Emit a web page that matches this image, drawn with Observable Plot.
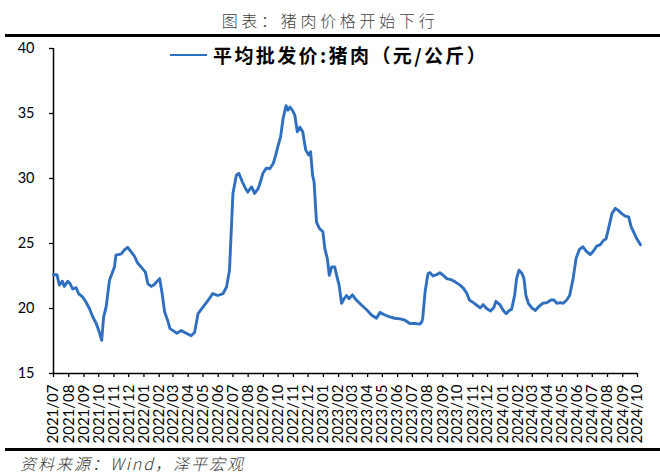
<!DOCTYPE html>
<html>
<head>
<meta charset="utf-8">
<script src="https://cdn.jsdelivr.net/npm/d3@7"></script>
<script src="https://cdn.jsdelivr.net/npm/@observablehq/plot@0.6"></script>
<style>
  html, body { margin: 0; padding: 0; background: #fff; }
  #wrap { position: relative; width: 660px; height: 476px; overflow: hidden; background: #fff; }
  #title { position: absolute; left: 0; top: 9px; width: 660px; text-align: center; font-family: "Noto Sans CJK SC", sans-serif; font-weight: 300; font-size: 16px; letter-spacing: 3.7px; color: #404040; line-height: 22px; }
  .rule { position: absolute; left: 5px; right: 0; background: #000; }
  #chart { position: absolute; left: 0; top: 36px; }
  #legend { position: absolute; left: 170px; top: 42px; display: flex; align-items: center; font-family: "Noto Sans CJK SC", sans-serif; font-weight: 700; font-size: 19px; letter-spacing: 2.4px; color: #000; line-height: 26px; }
  #legend .sw { width: 37px; height: 2.8px; background: #2e6fbf; margin-right: 6px; }
  #caption { position: absolute; left: 20px; top: 452px; font-family: "Noto Sans CJK SC", sans-serif; font-style: italic; font-weight: 300; font-size: 16px; letter-spacing: 2px; color: #333; line-height: 22px; }
  #chart svg g[aria-label="x-axis tick label"] text { font-size: 15px; }
</style>
</head>
<body>
<div id="wrap">
  <div id="title"></div>
  <div class="rule" style="top:34px;height:2.5px;"></div>
  <div id="chart"></div>
  <div id="legend"><div class="sw"></div><span id="legendText"></span></div>
  <div class="rule" style="top:448px;height:3px;"></div>
  <div id="caption"></div>
</div>
<script>
const titleText = "图表：猪肉价格开始下行";
const seriesName = "平均批发价:猪肉（元/公斤）";
const captionText = "资料来源：Wind，泽平宏观";

const yTicks = [15, 20, 25, 30, 35, 40];
const monthLabels = [
  "2021/07","2021/08","2021/09","2021/10","2021/11","2021/12",
  "2022/01","2022/02","2022/03","2022/04","2022/05","2022/06","2022/07","2022/08","2022/09","2022/10","2022/11","2022/12",
  "2023/01","2023/02","2023/03","2023/04","2023/05","2023/06","2023/07","2023/08","2023/09","2023/10","2023/11","2023/12",
  "2024/01","2024/02","2024/03","2024/04","2024/05","2024/06","2024/07","2024/08","2024/09","2024/10"
];

const dates = [
  "2021-07-01","2021-07-03","2021-07-08","2021-07-13","2021-07-19","2021-07-23","2021-07-30","2021-08-04","2021-08-09","2021-08-16",
  "2021-08-21","2021-08-29","2021-09-05","2021-09-12","2021-09-19","2021-09-26","2021-10-02","2021-10-07","2021-10-11","2021-10-16",
  "2021-10-23","2021-10-28","2021-11-02","2021-11-05","2021-11-16","2021-11-22","2021-11-29","2021-12-06","2021-12-13","2021-12-19",
  "2021-12-26","2022-01-04","2022-01-09","2022-01-16","2022-01-22","2022-01-27","2022-02-02","2022-02-07","2022-02-12","2022-02-18",
  "2022-02-23","2022-03-01","2022-03-09","2022-03-18","2022-03-28","2022-04-07","2022-04-14","2022-04-21","2022-05-01","2022-05-11",
  "2022-05-21","2022-05-31","2022-06-11","2022-06-18","2022-06-24","2022-07-01","2022-07-08","2022-07-13","2022-07-20","2022-07-25",
  "2022-07-31","2022-08-08","2022-08-14","2022-08-21","2022-08-24","2022-08-31","2022-09-07","2022-09-14","2022-09-21","2022-09-26",
  "2022-10-01","2022-10-06","2022-10-11","2022-10-17","2022-10-21","2022-10-25","2022-10-30","2022-11-04","2022-11-09","2022-11-14",
  "2022-11-20","2022-11-26","2022-12-02","2022-12-06","2022-12-10","2022-12-13","2022-12-18","2022-12-24","2022-12-31","2023-01-04",
  "2023-01-09","2023-01-13","2023-01-18","2023-01-24","2023-01-28","2023-02-02","2023-02-07","2023-02-12","2023-02-17","2023-02-22",
  "2023-03-01","2023-03-09","2023-03-20","2023-03-30","2023-04-09","2023-04-19","2023-04-26","2023-05-06","2023-05-16","2023-05-26",
  "2023-06-06","2023-06-16","2023-06-26","2023-07-06","2023-07-16","2023-07-20","2023-07-22","2023-07-25","2023-07-27","2023-07-30",
  "2023-08-02","2023-08-06","2023-08-12","2023-08-19","2023-08-26","2023-09-02","2023-09-09","2023-09-19","2023-09-26","2023-10-06",
  "2023-10-13","2023-10-20","2023-10-25","2023-11-02","2023-11-09","2023-11-16","2023-11-22","2023-11-29","2023-12-07","2023-12-14",
  "2023-12-18","2023-12-26","2024-01-02","2024-01-08","2024-01-14","2024-01-19","2024-01-25","2024-01-29","2024-02-03","2024-02-09",
  "2024-02-13","2024-02-17","2024-02-22","2024-02-29","2024-03-07","2024-03-13","2024-03-22","2024-03-31","2024-04-08","2024-04-14",
  "2024-04-20","2024-04-27","2024-05-03","2024-05-10","2024-05-16","2024-05-23","2024-05-29","2024-06-05","2024-06-12","2024-06-19",
  "2024-06-27","2024-07-03","2024-07-10","2024-07-17","2024-07-24","2024-07-29","2024-08-03","2024-08-10","2024-08-17","2024-08-23",
  "2024-08-30","2024-09-06","2024-09-13","2024-09-18","2024-09-23","2024-09-29","2024-10-03","2024-10-07"
];
const prices = [
  22.6,22.6,22.6,21.8,22.1,21.7,22.1,21.9,21.5,21.6,
  21.15,20.9,20.5,20.0,19.35,18.85,18.2,17.55,19.35,20.1,
  22.2,22.7,23.2,24.1,24.2,24.5,24.7,24.35,24.0,23.5,
  23.2,22.8,21.9,21.7,21.85,22.05,22.3,21.15,19.75,19.1,
  18.45,18.3,18.1,18.3,18.1,17.9,18.15,19.6,20.1,20.6,
  21.15,21.0,21.15,21.65,22.95,28.85,30.25,30.4,29.75,29.35,
  28.95,29.35,28.85,29.2,29.5,30.4,30.8,30.75,31.15,31.8,
  32.55,33.2,34.6,35.6,35.25,35.5,35.25,34.85,33.6,33.95,
  33.6,32.2,31.8,32.05,30.25,29.75,26.65,26.15,25.9,24.6,
  23.85,22.55,23.2,23.2,22.55,21.8,20.4,20.75,21.0,20.75,
  21.05,20.65,20.25,19.9,19.5,19.25,19.7,19.5,19.35,19.25,
  19.2,19.1,18.85,18.85,18.8,18.95,19.25,20.5,21.3,22.05,
  22.7,22.75,22.5,22.6,22.75,22.55,22.3,22.2,22.05,21.8,
  21.55,21.15,20.65,20.45,20.25,20.05,20.3,20.0,19.8,20.1,
  20.55,20.3,19.85,19.6,19.85,19.95,21.0,22.3,22.95,22.7,
  22.3,21.0,20.4,20.05,19.85,20.1,20.4,20.45,20.65,20.65,
  20.4,20.45,20.4,20.65,21.0,22.3,23.85,24.55,24.75,24.4,
  24.15,24.4,24.8,24.9,25.25,25.35,26.15,27.3,27.7,27.55,
  27.3,27.1,27.05,26.3,25.9,25.4,25.15,24.9
];

document.getElementById("title").textContent = titleText;
document.getElementById("legendText").textContent = seriesName;
document.getElementById("caption").textContent = captionText;

const data = dates.map((d, i) => ({date: new Date(d + "T00:00:00Z"), value: prices[i]}));
const monthTicks = monthLabels.map(s => new Date(s.replace("/", "-") + "-01T00:00:00Z"));
const xStart = monthTicks[0];
const xEnd = monthTicks[monthTicks.length - 1];

const chart = Plot.plot({
  width: 660,
  height: 412,
  marginTop: 12,
  marginBottom: 75,
  marginLeft: 53,
  marginRight: 23,
  style: {fontFamily: "Lato, 'Noto Sans', sans-serif", fontSize: "14.5px", color: "#000", background: "transparent", overflow: "visible"},
  x: {type: "utc", domain: [xStart, xEnd]},
  y: {domain: [15, 40]},
  marks: [
    Plot.axisY({ticks: yTicks, tickSize: 4, tickPadding: 15, label: null, strokeWidth: 1.3}),
    Plot.axisX({ticks: monthTicks, tickFormat: d => d3.utcFormat("%Y/%m")(d), tickRotate: -90, tickSize: 4, tickPadding: 7, label: null, strokeWidth: 1.3}),
    Plot.ruleX([xStart], {y1: 15, y2: 40, stroke: "#000", strokeWidth: 1.5}),
    Plot.ruleY([15], {x1: xStart, x2: xEnd, stroke: "#000", strokeWidth: 1.5}),
    Plot.line(data, {x: "date", y: "value", stroke: "#2e6fbf", strokeWidth: 2.9, strokeLinejoin: "round"})
  ]
});
document.getElementById("chart").appendChild(chart);
</script>
</body>
</html>
